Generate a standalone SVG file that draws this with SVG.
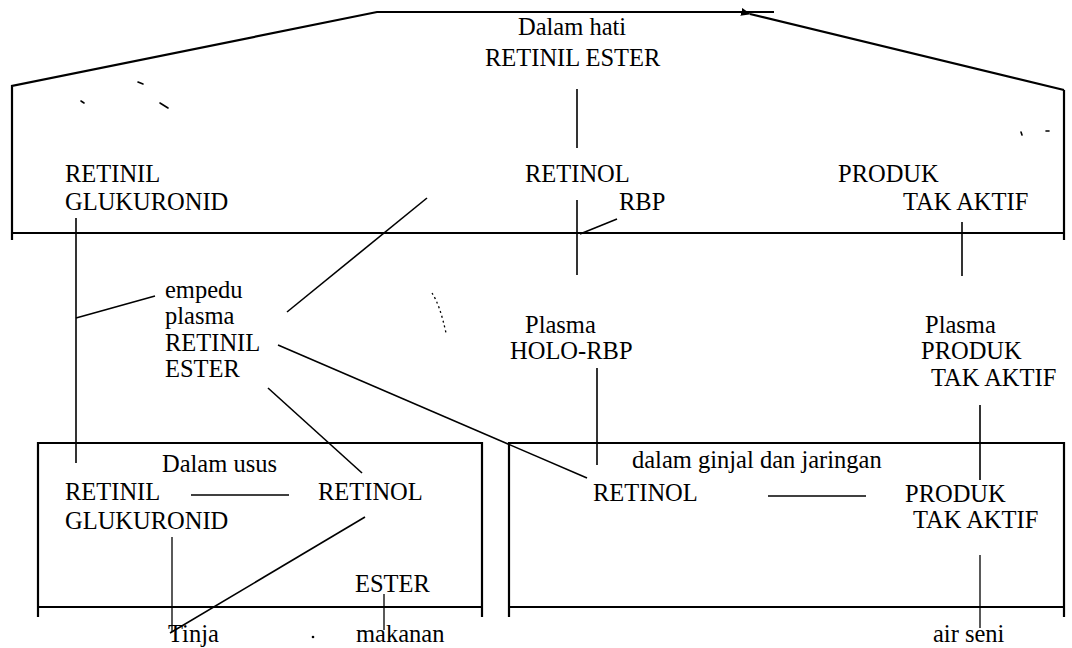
<svg xmlns="http://www.w3.org/2000/svg" width="1072" height="648" viewBox="0 0 1072 648">
<style>
text{font-family:"Liberation Serif","Times New Roman",serif;font-size:24.5px;fill:#000}
.b{fill:none;stroke:#000;stroke-width:2.2}
.c{fill:none;stroke:#000;stroke-width:1.6}
.t{fill:none;stroke:#000;stroke-width:1.3}
.n{fill:none;stroke:#000;stroke-width:1.6;stroke-linecap:round}
</style>
<defs>
<marker id="ah" viewBox="0 0 10 8" refX="1" refY="4" markerWidth="10" markerHeight="8" markerUnits="userSpaceOnUse" orient="auto-start-reverse">
<path d="M0,4 L10,0 L10,8 Z" fill="#000"/>
</marker>
</defs>
<rect width="1072" height="648" fill="#fff"/>

<g id="liver">
<path class="b" d="M12,240 V86 L377,12 H774"/>
<path class="b" d="M1064,240 V90"/>
<path class="b" d="M12,233 H1064"/>
</g>

<g id="gut">
<path class="b" d="M38,617 V443 H482 V617"/>
<path class="b" d="M38,607 H482"/>
</g>

<g id="kidney">
<path class="b" d="M509,617 V443 H1064 V617"/>
<path class="b" d="M509,607 H1064"/>
</g>

<g id="n-liver-label"><text x="518" y="35">Dalam hati</text><text x="485" y="66">RETINIL ESTER</text></g>
<g id="n-liver-gluk"><text x="65" y="182">RETINIL</text><text x="65" y="210">GLUKURONID</text></g>
<g id="n-liver-retinol"><text x="525" y="182">RETINOL</text><text x="619" y="210">RBP</text></g>
<g id="n-liver-produk"><text x="838" y="182">PRODUK</text><text x="903" y="210">TAK AKTIF</text></g>

<g id="n-plasma-ester"><text x="165" y="298">empedu</text><text x="165" y="324">plasma</text><text x="165" y="351">RETINIL</text><text x="165" y="377">ESTER</text></g>
<g id="n-plasma-holo"><text x="525" y="333">Plasma</text><text x="510" y="359">HOLO-RBP</text></g>
<g id="n-plasma-produk"><text x="925" y="333">Plasma</text><text x="921" y="359">PRODUK</text><text x="931" y="386">TAK AKTIF</text></g>

<g id="n-gut-label"><text x="162" y="472">Dalam usus</text></g>
<g id="n-gut-gluk"><text x="65" y="500">RETINIL</text><text x="65" y="529">GLUKURONID</text></g>
<g id="n-gut-retinol"><text x="318" y="500">RETINOL</text></g>
<g id="n-gut-ester"><text x="355" y="592">ESTER</text></g>
<g id="n-tinja"><text x="168" y="642">Tinja</text></g>
<g id="n-makanan"><text x="356" y="642">makanan</text></g>

<g id="n-kidney-label"><text x="632" y="468">dalam ginjal dan jaringan</text></g>
<g id="n-kidney-retinol"><text x="593" y="501">RETINOL</text></g>
<g id="n-kidney-produk"><text x="905" y="502">PRODUK</text><text x="913" y="528">TAK AKTIF</text></g>
<g id="n-airseni"><text x="933" y="642">air seni</text></g>

<g id="connectors">
<path class="b" d="M1064,90 L750,14" marker-end="url(#ah)"/>
<path class="c" d="M577,89 V148"/>
<path class="c" d="M577,200 V275"/>
<path class="c" d="M580,234 L617,219"/>
<path class="c" d="M962,222 V276"/>
<path class="c" d="M76,218 V463"/>
<path class="c" d="M76,318 L155,296"/>
<path class="c" d="M427,198 L287,312"/>
<path class="c" d="M278,345 L587,478"/>
<path class="c" d="M268,388 L362,473"/>
<path class="c" d="M597,368 V465"/>
<path class="c" d="M980,405 V480"/>
<path class="c" d="M191,495 H289"/>
<path class="c" d="M768,496 H866"/>
<path class="c" d="M365,517 L170,633"/>
<path class="t" d="M172,537 V632"/>
<path class="t" d="M384,594 V630"/>
<path class="t" d="M980,555 V628"/>
</g>

<g id="specks">
<path class="n" d="M138,82 L143,84"/>
<path class="n" d="M81,101 L84,103"/>
<path class="n" d="M160,103 L168,108"/>
<path class="n" d="M1046,131 L1049,131"/>
<path class="n" d="M1021,132 L1022,135"/>
<circle cx="313" cy="637" r="1.3"/>
<path class="t" d="M432,293 Q440,305 446,333" stroke-dasharray="2 3"/>
</g>
</svg>
